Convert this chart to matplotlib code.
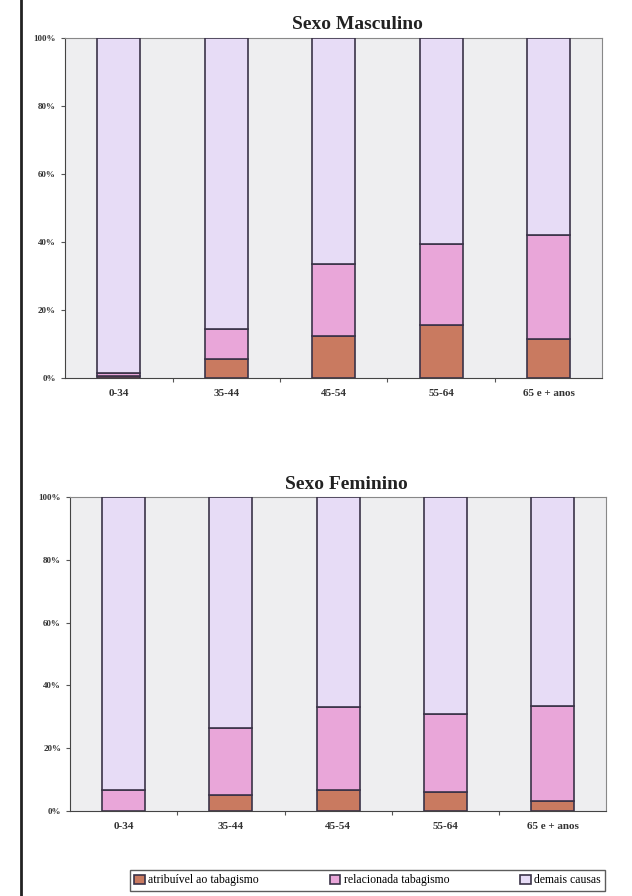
import numpy as np
import matplotlib.pyplot as plt
from matplotlib.lines import Line2D
from matplotlib.ticker import PercentFormatter

plt.rcParams['font.family'] = ['Liberation Serif', 'DejaVu Serif']

faixas = ['0-34', '35-44', '45-54', '55-64', '65 e + anos']

# percentuais de óbitos por faixa etária
masc_atribuivel = [0.5, 5.5, 12.5, 15.5, 11.5]
masc_relacionada = [1.0, 9.0, 21.0, 24.0, 30.5]
fem_atribuivel = [0.0, 5.0, 6.5, 6.0, 3.0]
fem_relacionada = [6.5, 21.5, 26.5, 25.0, 30.5]

cor_atrib = '#c97a60'
cor_rel = '#e9a6d9'
cor_demais = '#e7dcf6'
cor_borda = '#3b3348'

fig = plt.figure(figsize=(6.32, 8.96), dpi=100)


def painel(rect, titulo, tx, atrib, rel):
    ax = fig.add_axes(rect)
    x = np.arange(len(faixas))
    atrib = np.array(atrib)
    rel = np.array(rel)
    demais = 100 - atrib - rel
    w = 0.4
    kw = dict(width=w, edgecolor=cor_borda, linewidth=1.2, zorder=3)
    ax.bar(x, atrib, color=cor_atrib, label='atribuível ao tabagismo', **kw)
    ax.bar(x, rel, bottom=atrib, color=cor_rel, label='relacionada tabagismo', **kw)
    ax.bar(x, demais, bottom=atrib + rel, color=cor_demais, label='demais causas', **kw)
    ax.set_facecolor('#eeeef0')
    ax.set_xlim(-0.5, len(faixas) - 0.5)
    ax.set_ylim(0, 100)
    ax.set_yticks(range(0, 101, 20))
    ax.yaxis.set_major_formatter(PercentFormatter(decimals=0))
    ax.set_xticks(np.arange(len(faixas) - 1) + 0.5)
    ax.set_xticklabels([])
    ax.set_xticks(x, minor=True)
    ax.set_xticklabels(faixas, minor=True, fontsize=8, fontweight='bold', color='#333333')
    ax.tick_params(axis='x', which='minor', length=0, pad=8)
    ax.tick_params(axis='x', which='major', length=3, color='#555555')
    ax.tick_params(axis='y', labelsize=6.5, length=3, color='#555555', labelcolor='#333333')
    for lbl in ax.get_yticklabels():
        lbl.set_fontweight('bold')
    for s in ax.spines.values():
        s.set_color('#888888')
        s.set_linewidth(0.8)
    ax.spines['bottom'].set_color('#444444')
    ax.spines['left'].set_color('#444444')
    ax.set_title(titulo, x=tx, fontsize=14, fontweight='bold', pad=6, color='#222222')
    return ax


ax1 = painel([0.103, 0.578, 0.850, 0.380], 'Sexo Masculino', 0.544,
             masc_atribuivel, masc_relacionada)
ax2 = painel([0.111, 0.095, 0.848, 0.350], 'Sexo Feminino', 0.515,
             fem_atribuivel, fem_relacionada)

# linha vertical à esquerda
fig.add_artist(Line2D([0.033, 0.033], [0.0, 1.0], color='#222222', linewidth=2))

h, l = ax2.get_legend_handles_labels()
fig.legend(h, l, loc='lower left', bbox_to_anchor=(0.206, 0.006, 0.751, 0.03),
           mode='expand', ncol=3, fontsize=8.5, frameon=True, fancybox=False,
           edgecolor='#333333', handlelength=0.9, handleheight=0.9,
           handletextpad=0.3, columnspacing=1.0, borderpad=0.35, borderaxespad=0)

fig.savefig('out.png', dpi=100)
